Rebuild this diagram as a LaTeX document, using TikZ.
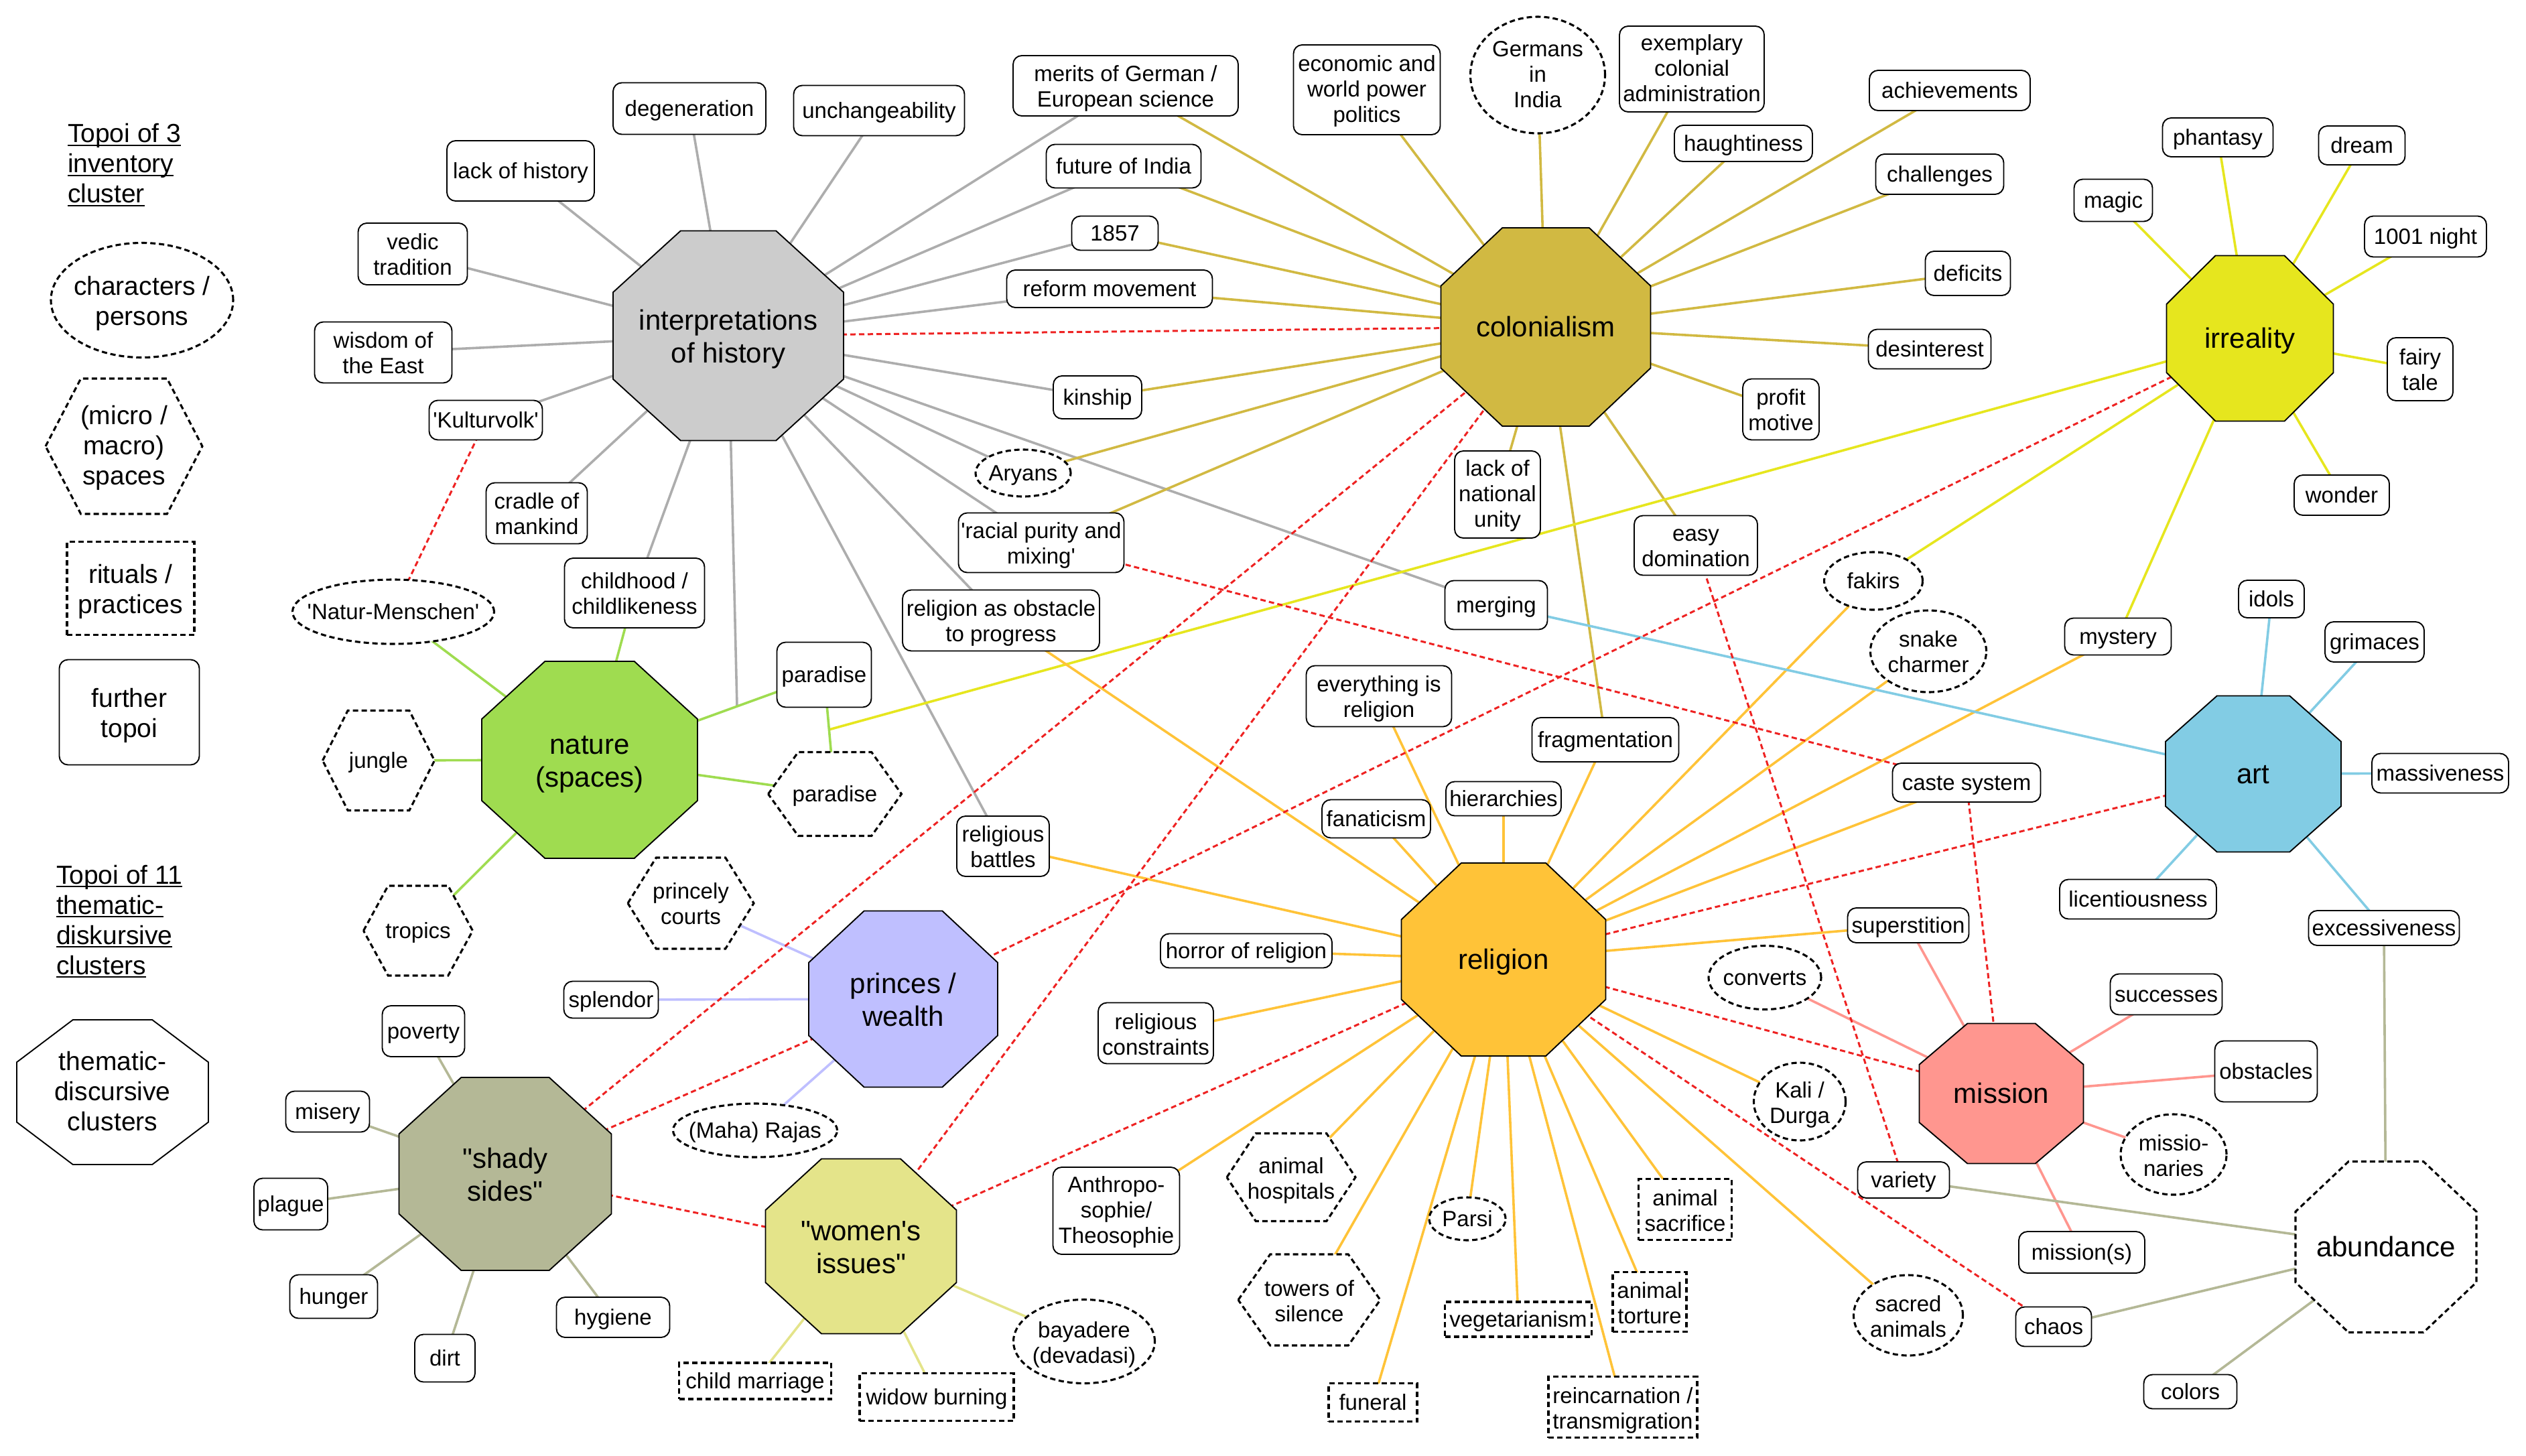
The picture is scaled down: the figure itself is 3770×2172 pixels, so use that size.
\documentclass[tikz,border=0pt]{standalone}
\usepackage{fontspec}
\usetikzlibrary{shapes.geometric,backgrounds}
\newfontfamily\lsans{Liberation Sans}
\newcommand{\ulx}[1]{\leavevmode\setbox0=\hbox{#1}\rlap{\rule[-5pt]{\wd0}{2pt}}\box0}
\makeatletter
\pgfdeclareshape{hexbox}{
  \inheritsavedanchors[from=rectangle]
  \inheritanchorborder[from=rectangle]
  \inheritanchor[from=rectangle]{center}
  \backgroundpath{
    \southwest \pgf@xa=\pgf@x \pgf@ya=\pgf@y
    \northeast \pgf@xb=\pgf@x \pgf@yb=\pgf@y
    \pgf@xc=\pgf@xb \advance\pgf@xc by -\pgf@xa
    \pgf@xc=0.225\pgf@xc
    \pgf@yc=\pgf@ya \advance\pgf@yc by \pgf@yb \pgf@yc=0.5\pgf@yc
    \pgfpathmoveto{\pgfqpoint{\pgf@xa}{\pgf@yc}}
    \pgf@xb=\pgf@xa \advance\pgf@xb by \pgf@xc
    \pgfpathlineto{\pgfqpoint{\pgf@xb}{\pgf@yb}}
    \northeast \pgf@xb=\pgf@x \advance\pgf@xb by -\pgf@xc
    \pgfpathlineto{\pgfqpoint{\pgf@xb}{\pgf@yb}}
    \northeast \pgf@xb=\pgf@x
    \pgfpathlineto{\pgfqpoint{\pgf@xb}{\pgf@yc}}
    \advance\pgf@xb by -\pgf@xc
    \pgfpathlineto{\pgfqpoint{\pgf@xb}{\pgf@ya}}
    \pgf@xb=\pgf@xa \advance\pgf@xb by \pgf@xc
    \pgfpathlineto{\pgfqpoint{\pgf@xb}{\pgf@ya}}
    \pgfpathclose
  }
}
\newdimen\octx \newdimen\octy \newdimen\octX \newdimen\octY
\pgfdeclareshape{octbox}{
  \inheritsavedanchors[from=rectangle]
  \inheritanchorborder[from=rectangle]
  \inheritanchor[from=rectangle]{center}
  \backgroundpath{
    \southwest \pgf@xa=\pgf@x \pgf@ya=\pgf@y
    \northeast \pgf@xb=\pgf@x \pgf@yb=\pgf@y
    \octx=\pgf@xb \advance\octx by -\pgf@xa \octx=0.293\octx
    \octy=\pgf@yb \advance\octy by -\pgf@ya \octy=0.293\octy
    \octX=\pgf@xb \advance\octX by -\octx
    \octY=\pgf@yb \advance\octY by -\octy
    \advance\octx by \pgf@xa
    \advance\octy by \pgf@ya
    \pgfpathmoveto{\pgfqpoint{\octx}{\pgf@ya}}
    \pgfpathlineto{\pgfqpoint{\octX}{\pgf@ya}}
    \pgfpathlineto{\pgfqpoint{\pgf@xb}{\octy}}
    \pgfpathlineto{\pgfqpoint{\pgf@xb}{\octY}}
    \pgfpathlineto{\pgfqpoint{\octX}{\pgf@yb}}
    \pgfpathlineto{\pgfqpoint{\octx}{\pgf@yb}}
    \pgfpathlineto{\pgfqpoint{\pgf@xa}{\octY}}
    \pgfpathlineto{\pgfqpoint{\pgf@xa}{\octy}}
    \pgfpathclose
  }
}
\makeatother
\definecolor{cHist}{HTML}{CCCCCC}
\definecolor{cColo}{HTML}{D1B942}
\definecolor{cIrre}{HTML}{E6E61E}
\definecolor{cNatu}{HTML}{9FDC50}
\definecolor{cReli}{HTML}{FFC338}
\definecolor{cArtt}{HTML}{82CCE4}
\definecolor{cPrin}{HTML}{BFBFFF}
\definecolor{cShad}{HTML}{B4B896}
\definecolor{cWome}{HTML}{E4E48A}
\definecolor{cMiss}{HTML}{FF968F}
\definecolor{cRedd}{HTML}{EE2222}
\tikzset{
  x=1pt,y=-1pt,
  sz/.style 2 args={minimum width=#1pt,minimum height=#2pt},
  base/.style={inner sep=0pt,outer sep=0pt,align=center,fill=white,draw=black,line width=1.9pt,
    font=\lsans\fontsize{33}{38}\selectfont,
    execute at begin node={\rule{0pt}{0.905em}},
    execute at end node={\rule[-0.212em]{0pt}{0.212em}}},
  ml/.style={execute at begin node={\rule{0pt}{2.15em}}},
  mlt/.style={execute at begin node={\rule{0pt}{3.17em}}},
  box/.style={base,rectangle,rounded corners=13pt},
  dbox/.style={base,rectangle,line width=3.1pt,dash pattern=on 8pt off 5pt},
  ell/.style={base,ellipse,inner sep=-40pt,line width=3.1pt,dash pattern=on 8pt off 5pt},
  hexn/.style={base,hexbox,line width=3.1pt,dash pattern=on 8pt off 5pt},
  hub/.style n args={3}{base,octbox,sz={#1}{#2},fill=#3,font=\lsans\fontsize{42}{49}\selectfont},
  big/.style={font=\lsans\fontsize{39}{45}\selectfont},
  ttl/.style={inner sep=0pt,outer sep=0pt,align=left,anchor=west,font=\lsans\fontsize{39}{45}\selectfont},
  lnk/.style={line width=3.6pt},
  redl/.style={line width=3pt,draw=cRedd,dash pattern=on 8pt off 5pt},
}
\begin{document}
\begin{tikzpicture}
\useasboundingbox (0,0) rectangle (3770,2172);
% legend
\node[ttl] (t3) at (101,246) {\ulx{Topoi of 3}\\\ulx{inventory}\\\ulx{cluster}};
\node[ell,big,ml,sz={272}{171}] (l1) at (212,448) {characters /\\persons};
\node[hexn,big,mlt,sz={234}{202}] (l2) at (185,666) {(micro /\\macro)\\spaces};
\node[dbox,big,ml,sz={190}{139}] (l3) at (195,878) {rituals /\\practices};
\node[box,big,ml,sz={209}{157}] (l4) at (193,1063) {further\\topoi};
\node[ttl] (t11) at (84,1375) {\ulx{Topoi of 11}\\\ulx{thematic-}\\\ulx{diskursive}\\\ulx{clusters}};
\node[hub={286}{216}{white},big,mlt] (l5) at (168,1630) {thematic-\\discursive\\clusters};
% hubs
\node[hub={344}{313}{cHist},ml] (hist) at (1087,501) {interpretations\\of history};
\node[hub={313}{296}{cColo}] (colo) at (2307,488) {colonialism};
\node[hub={249}{247}{cIrre}] (irre) at (3358,505) {irreality};
\node[hub={322}{294}{cNatu},ml] (natu) at (880,1134) {nature\\(spaces)};
\node[hub={305}{288}{cReli}] (reli) at (2244,1432) {religion};
\node[hub={262}{233}{cArtt}] (artt) at (3363,1155) {art};
\node[hub={282}{263}{cPrin},ml] (prin) at (1348,1491) {princes /\\wealth};
\node[hub={317}{288}{cShad},ml] (shad) at (754,1752) {"shady\\sides"};
\node[hub={285}{261}{cWome},ml] (wome) at (1285,1860) {"women's\\issues"};
\node[hub={245}{209}{cMiss}] (miss) at (2987,1632) {mission};
\node[hub={270}{255}{white},dash pattern=on 8pt off 5pt,line width=3.1pt] (abun) at (3561,1861) {abundance};
% interpretations
\node[box,sz={228}{77}] (dege) at (1029,162) {degeneration};
\node[box,sz={255}{75}] (unch) at (1312,165) {unchangeability};
\node[box,sz={220}{90}] (lack) at (777,255) {lack of history};
\node[box,ml,sz={163}{92}] (vedi) at (616,379) {vedic\\tradition};
\node[box,ml,sz={205}{91}] (wisd) at (572,526) {wisdom of\\the East};
\node[box,sz={169}{59}] (kult) at (725,627) {'Kulturvolk'};
\node[box,ml,sz={151}{91}] (crad) at (801,766) {cradle of\\mankind};
\node[box,ml,sz={209}{104}] (chil) at (947,885) {childhood /\\childlikeness};
\node[box,ml,sz={336}{90}] (meri) at (1680,128) {merits of German /\\European science};
\node[box,sz={231}{65}] (futu) at (1677,248) {future of India};
\node[box,sz={129}{51}] (y857) at (1664,348) {1857};
\node[box,sz={307}{56}] (refo) at (1656,431) {reform movement};
\node[box,sz={132}{64}] (kins) at (1638,593) {kinship};
\node[ell,sz={142}{70}] (arya) at (1527,706) {Aryans};
\node[box,ml,sz={247}{89}] (raci) at (1554,810) {'racial purity and\\mixing'};
\node[box,ml,sz={294}{91}] (obst) at (1494,926) {religion as obstacle\\to progress};
\node[box,sz={153}{73}] (merg) at (2233,903) {merging};
\node[box,ml,sz={138}{90}] (batt) at (1497,1263) {religious\\battles};
% colonialism
\node[box,mlt,sz={219}{134}] (econ) at (2040,134) {economic and\\world power\\politics};
\node[ell,mlt,sz={201}{174}] (germ) at (2295,112) {Germans\\in\\India};
\node[box,mlt,sz={216}{128}] (exem) at (2525,103) {exemplary\\colonial\\administration};
\node[box,sz={206}{54}] (haug) at (2602,214) {haughtiness};
\node[box,sz={240}{60}] (achi) at (2910,135) {achievements};
\node[box,sz={191}{60}] (chal) at (2895,260) {challenges};
\node[box,sz={127}{66}] (defi) at (2937,408) {deficits};
\node[box,sz={183}{59}] (desi) at (2880,521) {desinterest};
\node[box,ml,sz={114}{91}] (prof) at (2658,611) {profit\\motive};
\node[box,ml,sz={184}{89}] (easy) at (2531,814) {easy\\domination};
\node[box,mlt,sz={128}{130}] (unit) at (2235,738) {lack of\\national\\unity};
\node[box,sz={219}{66}] (frag) at (2396,1104) {fragmentation};
% irreality
\node[box,sz={117}{63}] (magi) at (3154,299) {magic};
\node[box,sz={165}{58}] (phan) at (3310,205) {phantasy};
\node[box,sz={129}{58}] (drea) at (3525,217) {dream};
\node[box,sz={182}{61}] (n100) at (3620,353) {1001 night};
\node[box,ml,sz={98}{94}] (fair) at (3612,551) {fairy\\tale};
\node[box,sz={142}{60}] (wond) at (3495,739) {wonder};
\node[box,sz={159}{55}] (myst) at (3161,950) {mystery};
\node[ell,sz={147}{86}] (faki) at (2796,867) {fakirs};
\node[ell,ml,sz={173}{122}] (snak) at (2878,972) {snake\\charmer};
% art
\node[box,sz={98}{56}] (idol) at (3390,894) {idols};
\node[box,sz={148}{60}] (grim) at (3544,958) {grimaces};
\node[box,sz={204}{59}] (mass) at (3642,1154) {massiveness};
\node[box,sz={234}{59}] (lice) at (3191,1342) {licentiousness};
\node[box,sz={225}{52}] (exce) at (3558,1385) {excessiveness};
% nature
\node[ell,sz={301}{96}] (natm) at (587,913) {'Natur-Menschen'};
\node[box,sz={141}{97}] (parr) at (1230,1007) {paradise};
\node[hexn,sz={199}{125}] (parh) at (1246,1185) {paradise};
\node[hexn,sz={167}{149}] (jung) at (565,1135) {jungle};
\node[hexn,sz={163}{134}] (trop) at (624,1389) {tropics};
% princes
\node[hexn,ml,sz={188}{136}] (cour) at (1031,1348) {princely\\courts};
\node[box,sz={141}{55}] (sple) at (912,1492) {splendor};
\node[ell,sz={245}{80}] (raja) at (1127,1687) {(Maha) Rajas};
% shady
\node[box,sz={123}{76}] (pove) at (632,1539) {poverty};
\node[box,sz={125}{61}] (mise) at (489,1659) {misery};
\node[box,sz={110}{77}] (plag) at (434,1797) {plague};
\node[box,sz={131}{65}] (hung) at (498,1935) {hunger};
\node[box,sz={90}{71}] (dirt) at (664,2027) {dirt};
\node[box,sz={169}{60}] (hygi) at (915,1966) {hygiene};
% women
\node[dbox,sz={227}{54}] (marr) at (1127,2061) {child marriage};
\node[dbox,sz={230}{71}] (wido) at (1398,2085) {widow burning};
\node[ell,ml,sz={211}{125}] (baya) at (1618,2002) {bayadere\\(devadasi)};
% religion
\node[box,ml,sz={217}{91}] (ever) at (2058,1039) {everything is\\religion};
\node[box,sz={162}{57}] (fana) at (2054,1222) {fanaticism};
\node[box,sz={172}{51}] (hier) at (2244,1192) {hierarchies};
\node[box,sz={221}{58}] (cast) at (2935,1168) {caste system};
\node[box,sz={256}{51}] (horr) at (1860,1419) {horror of religion};
\node[box,ml,sz={172}{91}] (cons) at (1725,1542) {religious\\constraints};
\node[box,mlt,sz={189}{130}] (anth) at (1666,1807) {Anthropo-\\sophie/\\Theosophie};
\node[hexn,ml,sz={192}{131}] (hosp) at (1927,1757) {animal\\hospitals};
\node[hexn,ml,sz={212}{136}] (towe) at (1954,1940) {towers of\\silence};
\node[ell,sz={114}{64}] (pars) at (2190,1819) {Parsi};
\node[dbox,sz={219}{52}] (vege) at (2266,1969) {vegetarianism};
\node[dbox,sz={132}{57}] (fune) at (2049,2093) {funeral};
\node[dbox,ml,sz={222}{91}] (rein) at (2422,2100) {reincarnation /\\transmigration};
\node[dbox,ml,sz={110}{89}] (tort) at (2462,1943) {animal\\torture};
\node[dbox,ml,sz={139}{91}] (sacr) at (2515,1805) {animal\\sacrifice};
\node[ell,ml,sz={137}{116}] (kali) at (2686,1644) {Kali /\\Durga};
\node[ell,ml,sz={163}{120}] (sana) at (2848,1963) {sacred\\animals};
% mission
\node[box,sz={181}{52}] (supe) at (2848,1381) {superstition};
\node[ell,sz={168}{95}] (conv) at (2634,1459) {converts};
\node[box,sz={167}{61}] (succ) at (3233,1484) {successes};
\node[box,sz={153}{91}] (obsc) at (3382,1599) {obstacles};
\node[ell,ml,sz={158}{120}] (mnar) at (3244,1723) {missio-\\naries};
\node[box,sz={188}{62}] (msns) at (3107,1869) {mission(s)};
% abundance
\node[box,sz={137}{54}] (vari) at (2841,1761) {variety};
\node[box,sz={113}{59}] (chao) at (3065,1980) {chaos};
\node[box,sz={139}{51}] (colr) at (3269,2077) {colors};
% junctions
\coordinate (j1) at (1100,1054);
\coordinate (j2) at (1237,1089);
\begin{pgfonlayer}{background}
\fill[white] (0,0) rectangle (3770,2172);
\foreach \n in {dege,unch,lack,vedi,wisd,kult,crad,chil,meri,futu,y857,refo,kins,arya,raci,merg,obst,batt,j1}
  \draw[lnk,draw=cHist!85!black] (hist.center) -- (\n.center);
\foreach \n in {meri,futu,y857,refo,kins,arya,raci,econ,germ,exem,haug,achi,chal,defi,desi,prof,easy,unit,frag}
  \draw[lnk,draw=cColo] (colo.center) -- (\n.center);
\foreach \n in {magi,phan,drea,n100,fair,wond,myst,faki,j2}
  \draw[lnk,draw=cIrre] (irre.center) -- (\n.center);
\foreach \n in {chil,natm,parr,parh,jung,trop}
  \draw[lnk,draw=cNatu] (natu.center) -- (\n.center);
\draw[lnk,draw=cNatu] (parr.center) -- (parh.center);
\foreach \n in {batt,horr,cons,anth,hosp,towe,pars,vege,fune,rein,tort,sacr,kali,sana,supe,cast,myst,snak,faki,frag,hier,fana,ever,obst}
  \draw[lnk,draw=cReli] (reli.center) -- (\n.center);
\foreach \n in {idol,grim,mass,lice,exce,merg}
  \draw[lnk,draw=cArtt] (artt.center) -- (\n.center);
\foreach \n in {cour,sple,raja}
  \draw[lnk,draw=cPrin] (prin.center) -- (\n.center);
\foreach \n in {pove,mise,plag,hung,dirt,hygi}
  \draw[lnk,draw=cShad] (shad.center) -- (\n.center);
\foreach \n in {marr,wido,baya}
  \draw[lnk,draw=cWome] (wome.center) -- (\n.center);
\foreach \n in {supe,conv,succ,obsc,mnar,msns}
  \draw[lnk,draw=cMiss] (miss.center) -- (\n.center);
\foreach \n in {exce,vari,chao,colr}
  \draw[lnk,draw=cShad] (abun.center) -- (\n.center);
\draw[redl] (hist.center) -- (colo.center);
\draw[redl] (kult.center) -- (natm.center);
\draw[redl] (raci.center) -- (cast.center);
\draw[redl] (easy.center) -- (vari.center);
\draw[redl] (colo.center) -- (shad.center);
\draw[redl] (colo.center) -- (wome.center);
\draw[redl] (irre.center) -- (prin.center);
\draw[redl] (prin.center) -- (shad.center);
\draw[redl] (shad.center) -- (wome.center);
\draw[redl] (wome.center) -- (reli.center);
\draw[redl] (reli.center) -- (artt.center);
\draw[redl] (reli.center) -- (miss.center);
\draw[redl] (reli.center) -- (chao.center);
\draw[redl] (cast.center) -- (miss.center);
\end{pgfonlayer}
\end{tikzpicture}
\end{document}
